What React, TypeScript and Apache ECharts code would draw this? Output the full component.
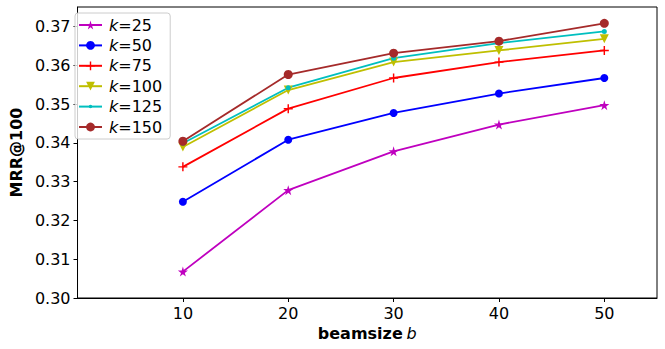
import React, { useEffect, useRef } from "react";
import * as echarts from "echarts";

const beamSizes = [10, 20, 30, 40, 50];
const seriesNames = ["k=25", "k=50", "k=75", "k=100", "k=125", "k=150"];
const k25 = [0.3068, 0.3278, 0.3378, 0.3447, 0.3497];
const k50 = [0.3248, 0.3408, 0.3477, 0.3527, 0.3567];
const k75 = [0.3338, 0.3488, 0.3567, 0.3608, 0.3638];
const k100 = [0.3389, 0.3536, 0.3608, 0.3638, 0.3668];
const k125 = [0.3399, 0.3542, 0.3618, 0.3657, 0.3687];
const k150 = [0.3404, 0.3576, 0.3631, 0.3662, 0.3708];
const yTicks = [0.3, 0.31, 0.32, 0.33, 0.34, 0.35, 0.36, 0.37];
const xTicks = [10, 20, 30, 40, 50];

const colors = ["#bf00bf", "#0000ff", "#ff0000", "#bfbf00", "#00bfbf", "#a52a2a"];
const STAR = "path://M50,0 L61,35 L98,35 L68,57 L79,91 L50,70 L21,91 L32,57 L2,35 L39,35 Z";
const PLUS = "path://M42,0 H58 V42 H100 V58 H58 V100 H42 V58 H0 V42 H42 Z";
const DOT = "path://M0,0 M100,100 M30,50 A20,20 0 1,0 70,50 A20,20 0 1,0 30,50 Z";
const symbols = [STAR, "circle", PLUS, "triangle", DOT, "circle"];
const symbolSizes = [10, 8, 9, 9, 12.5, 9];
const rotates = [0, 0, 0, 180, 0, 0];
const FONT = "DejaVu Sans";

export default function App() {
  const ref = useRef<HTMLDivElement>(null);
  useEffect(() => {
    if (!ref.current) return;
    const chart = echarts.init(ref.current, undefined, { renderer: "svg" });
    const allData = [k25, k50, k75, k100, k125, k150];
    chart.setOption({
      animation: false,
      backgroundColor: "#fff",
      textStyle: { fontFamily: FONT },
      grid: {
        left: 69,
        right: 8,
        top: 7,
        bottom: 51,
        show: true,
        borderColor: "#000",
        borderWidth: 1,
        backgroundColor: "transparent",
      },
      legend: {
        orient: "vertical",
        left: 75,
        top: 13,
        padding: [3, 8, 3, 3],
        itemWidth: 23,
        itemHeight: 11,
        itemGap: 2.4,
        borderColor: "#cccccc",
        borderWidth: 1,
        borderRadius: 3,
        backgroundColor: "rgba(255,255,255,0.8)",
        data: seriesNames,
        formatter: (name: string) => `{i|k}{n|${name.slice(1)}}`,
        textStyle: {
          fontFamily: FONT,
          fontSize: 16,
          color: "#000",
          lineHeight: 18,
          padding: [0, 0, 0, 2],
          rich: {
            i: { fontFamily: FONT, fontStyle: "italic", fontSize: 16, color: "#000" },
            n: { fontFamily: FONT, fontSize: 16, color: "#000" },
          },
        },
      },
      xAxis: {
        type: "value",
        min: 0,
        max: 55,
        interval: 10,
        name: "{b|beamsize} {i|b}",
        nameLocation: "middle",
        nameGap: 27,
        nameTextStyle: {
          rich: {
            b: { fontFamily: FONT, fontWeight: "bold", fontSize: 16, color: "#000" },
            i: { fontFamily: FONT, fontStyle: "italic", fontSize: 16, color: "#000" },
          },
        },
        splitLine: { show: false },
        axisLine: { show: true, lineStyle: { color: "#000", width: 1 } },
        axisTick: { show: true, length: 4, customValues: xTicks, lineStyle: { color: "#000" } },
        axisLabel: {
          customValues: xTicks,
          margin: 7,
          fontFamily: FONT,
          fontSize: 16,
          color: "#000",
        },
      },
      yAxis: {
        type: "value",
        min: 0.3,
        max: 0.375,
        interval: 0.01,
        name: "MRR@100",
        nameLocation: "middle",
        nameGap: 46,
        nameTextStyle: { fontFamily: FONT, fontWeight: "bold", fontSize: 16, color: "#000" },
        splitLine: { show: false },
        axisLine: { show: true, lineStyle: { color: "#000", width: 1 } },
        axisTick: { show: true, length: 4, customValues: yTicks, lineStyle: { color: "#000" } },
        axisLabel: {
          customValues: yTicks,
          margin: 7,
          fontFamily: FONT,
          fontSize: 16,
          color: "#000",
          formatter: (v: number) => v.toFixed(2),
        },
      },
      series: seriesNames.map((name, i) => ({
        name,
        type: "line",
        data: beamSizes.map((b, j) => [b, allData[i][j]]),
        symbol: symbols[i],
        symbolSize: symbolSizes[i],
        symbolRotate: rotates[i],
        showSymbol: true,
        lineStyle: { color: colors[i], width: 1.8 },
        itemStyle: { color: colors[i], borderWidth: 0 },
        emphasis: { disabled: true },
      })),
    });
    return () => chart.dispose();
  }, []);
  return (
    <div
      ref={ref}
      style={{ position: "fixed", left: 0, top: 0, width: 665, height: 349 }}
    />
  );
}
